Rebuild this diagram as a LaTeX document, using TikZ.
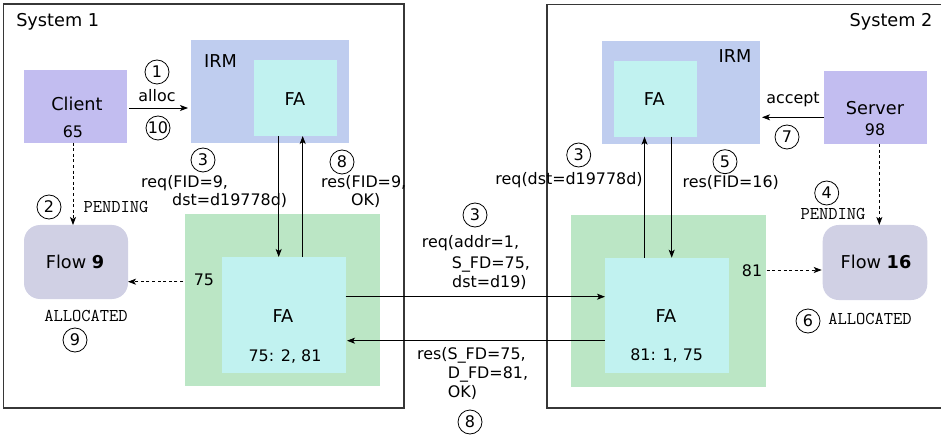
\documentclass[tikz,border=0pt]{standalone}
\usepackage{fontspec}
\setmainfont{DejaVu Sans}
\usetikzlibrary{arrows.meta,calc}
\definecolor{irmc}{RGB}{191,205,239}
\definecolor{fac}{RGB}{193,242,240}
\definecolor{appc}{RGB}{194,189,240}
\definecolor{grc}{RGB}{187,230,197}
\definecolor{flowc}{RGB}{208,208,228}
\definecolor{sysc}{RGB}{55,55,55}
\newcommand\bigf{\fontsize{17.7}{20}\selectfont}
\newcommand\labf{\fontsize{15.9}{18}\selectfont}
\newcommand\numf{\fontsize{16}{18}\selectfont}
\newcommand\monof{\fontsize{18}{20}\selectfont\ttfamily}
\begin{document}
\begin{tikzpicture}[x=1pt,y=-1pt,
  area/.style={inner sep=0pt,outer sep=0pt,draw=none},
  irmbox/.style={area,fill=irmc},
  fabox/.style={area,fill=fac},
  appbox/.style={area,fill=appc},
  greenbox/.style={area,fill=grc},
  flowbox/.style={area,fill=flowc,rounded corners=16pt},
  sysline/.style={draw=sysc,line width=1.1pt},
  big/.style={inner sep=0pt,font=\bigf},
  lab/.style={inner sep=0pt,font=\labf},
  mono/.style={inner sep=0pt,font=\monof},
  step num/.style={draw,circle,line width=0.8pt,minimum size=24pt,inner sep=0pt,font=\numf},
  arr/.style={line width=0.8pt,-{Stealth[length=8pt,width=6pt,inset=2pt]}},
  dasharr/.style={arr,dash pattern=on 3pt off 2.6pt}
]
\useasboundingbox (0,0) rectangle (941,438);

% system frames
\draw[sysline] (3.3,4) rectangle (404,408);
\draw[sysline] (950,4.7) -- (547,4.7) -- (547,408) -- (950,408);
\node[big] (sys1) at (57.7,22) {System 1};
\node[big] (sys2) at (891,22) {System 2};

% ---------- System 1 ----------
\node[irmbox,minimum width=157.7pt,minimum height=102.7pt] (irm1) at (269.85,91.35) {};
\node[fabox,minimum width=83pt,minimum height=76pt] (fa1t) at (295.5,98) {};
\node[big] (irm1lab) at (220.5,61) {IRM};
\node[big] (fa1tlab) at (295,99) {FA};

\node[appbox,minimum width=103pt,minimum height=72.7pt] (client) at (75.5,106.35) {};
\node[big] (clientlab) at (77,104) {Client};
\node[lab] (clientid) at (73,132) {65};

\node[flowbox,minimum width=104pt,minimum height=74pt] (flow9) at (76,262) {};
\node[big] (flow9lab) at (75,262) {Flow \textbf{9}};

\node[greenbox,minimum width=195pt,minimum height=172pt] (green1) at (282.5,300) {};
\node[fabox,minimum width=123.7pt,minimum height=116pt] (fa1b) at (283.85,315) {};
\node[big] (fa1blab) at (283,316) {FA};
\node[lab] (fa1btab) at (285,357) {75: 2, 81};
\node[lab] (p75) at (204,280) {75};

\node[mono] (alloc1) at (86,316) {ALLOCATED};
\node[step num] (s9) at (75,340) {9};
\node[step num] (s2) at (49,207) {2};
\node[mono] (pend1) at (116,207) {PENDING};

\node[lab] (alloclab) at (157,96) {alloc};
\node[step num] (s1) at (157,72) {1};
\node[step num] (s10) at (158,128) {10};

\node[step num] (s3a) at (203,160) {3};
\node[lab,anchor=west] (reqa1) at (141,183) {req(FID=9,};
\node[lab,anchor=west] (reqa2) at (172,201) {dst=d19778d)};
\node[step num] (s8a) at (342,162) {8};
\node[lab,anchor=west] (resa1) at (321,183) {res(FID=9,};
\node[lab,anchor=west] (resa2) at (351,201) {OK)};

% ---------- between systems ----------
\node[step num] (s3b) at (475,215) {3};
\node[lab,anchor=west] (reqb1) at (421.7,243) {req(addr=1,};
\node[lab,anchor=west] (reqb2) at (451.7,264) {S\_FD=75,};
\node[lab,anchor=west] (reqb3) at (452,282.7) {dst=d19)};
\node[lab,anchor=west] (resb1) at (417,355.7) {res(S\_FD=75,};
\node[lab,anchor=west] (resb2) at (447.7,374) {D\_FD=81,};
\node[lab,anchor=west] (resb3) at (447.7,393) {OK)};
\node[step num] (s8b) at (470,422) {8};

% ---------- System 2 ----------
\node[irmbox,minimum width=158pt,minimum height=103pt] (irm2) at (681,92.5) {};
\node[fabox,minimum width=82.7pt,minimum height=75.7pt] (fa2t) at (655.35,98.85) {};
\node[big] (irm2lab) at (735,56) {IRM};
\node[big] (fa2tlab) at (654.3,99.3) {FA};

\node[appbox,minimum width=102.7pt,minimum height=73pt] (server) at (875.35,107.5) {};
\node[big] (serverlab) at (875,108) {Server};
\node[lab] (serverid) at (875,130) {98};
\node[lab] (acceptlab) at (793,100) {accept};
\node[step num] (s7) at (787,137) {7};

\node[step num] (s3c) at (578.7,155) {3};
\node[lab] (reqc) at (569,180) {req(dst=d19778d)};
\node[step num] (s5) at (725,161.7) {5};
\node[lab] (resc) at (730.7,182.7) {res(FID=16)};

\node[greenbox,minimum width=194.4pt,minimum height=171.7pt] (green2) at (668.5,300.85) {};
\node[fabox,minimum width=124pt,minimum height=115.6pt] (fa2b) at (667,315.5) {};
\node[big] (fa2blab) at (666,315.7) {FA};
\node[lab] (fa2btab) at (666.7,355.7) {81: 1, 75};
\node[lab] (p81) at (752,271) {81};

\node[flowbox,minimum width=104.6pt,minimum height=75pt] (flow16) at (875,262.5) {};
\node[big] (flow16lab) at (876,261.7) {Flow \textbf{16}};
\node[step num] (s4) at (826.7,193) {4};
\node[mono] (pend2) at (833,214) {PENDING};
\node[step num] (s6) at (808,321) {6};
\node[mono] (alloc2) at (870,319) {ALLOCATED};

% ---------- connectors ----------
\draw[arr,shorten <=2pt,shorten >=3pt] ([yshift=-1.65pt]client.east) -- ([yshift=-1.65pt]client.east -| irm1.west);
\draw[dasharr] ([xshift=-2.5pt]client.south) -- ([xshift=-2.5pt]client.south |- flow9.north);
\draw[arr] ([xshift=-16.8pt]fa1t.south) -- ([xshift=-16.8pt]fa1t.south |- fa1b.north);
\draw[arr] ([xshift=7.2pt]fa1t.south |- fa1b.north) -- ([xshift=7.2pt]fa1t.south);
\draw[dasharr,shorten <=2pt] (green1.west |- 0,281.7) -- (flow9.east |- 0,281.7);
\draw[arr] ([yshift=18.3pt]fa1b.east) -- ([yshift=18.3pt]fa1b.east -| fa2b.west);
\draw[arr,shorten >=1.3pt] ([yshift=-25.2pt]fa2b.west) -- ([yshift=-25.2pt]fa2b.west -| fa1b.east);
\draw[arr] ([xshift=-10.85pt]fa2t.south |- fa2b.north) -- ([xshift=-10.85pt]fa2t.south);
\draw[arr] ([xshift=16.35pt]fa2t.south) -- ([xshift=16.35pt]fa2t.south |- fa2b.north);
\draw[arr,shorten >=2pt] ([yshift=-9.8pt]server.west) -- ([yshift=-9.8pt]server.west -| irm2.east);
\draw[dasharr] ([xshift=4pt]server.south) -- ([xshift=4pt]server.south |- flow16.north);
\draw[dasharr,shorten <=1pt,shorten >=1pt] (green2.east |- 0,270) -- (flow16.west |- 0,270);
\end{tikzpicture}
\end{document}
